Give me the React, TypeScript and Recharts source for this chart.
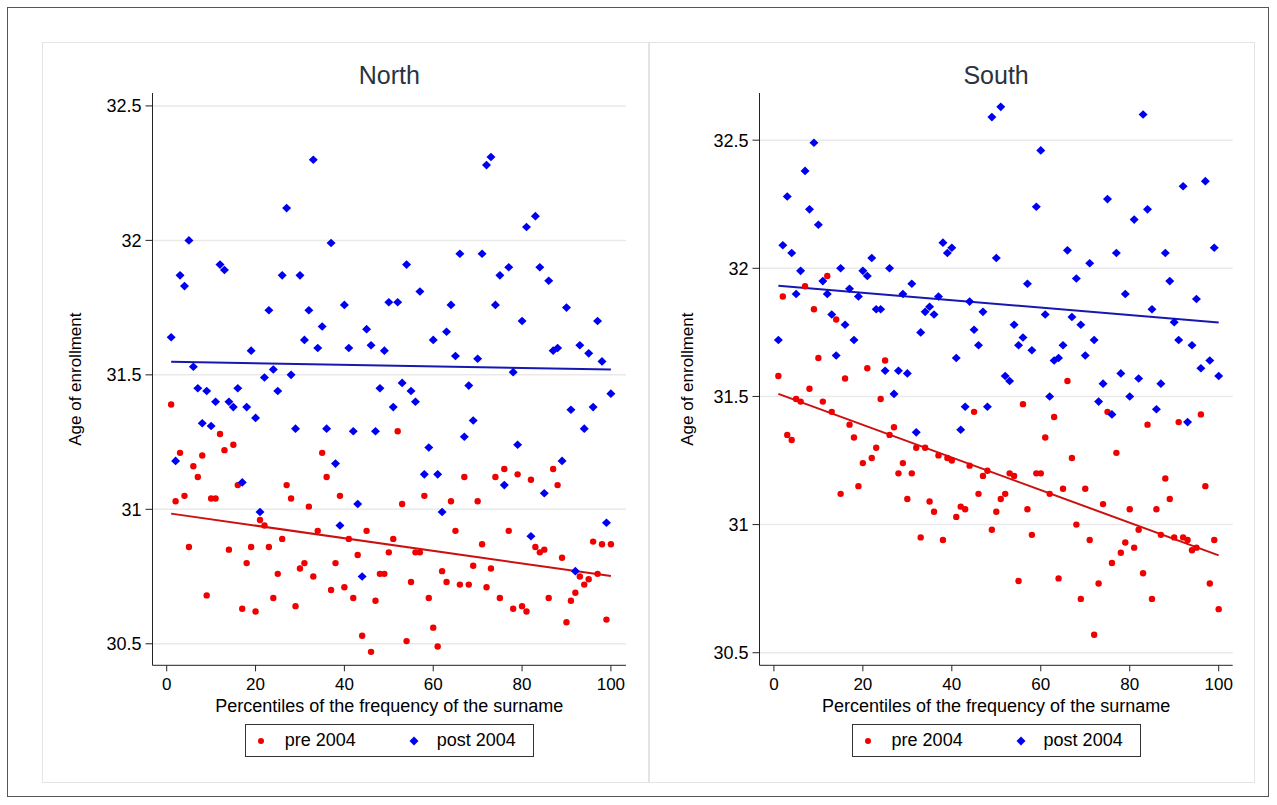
import React from 'react';
import {
  CartesianGrid,
  Label,
  ReferenceLine,
  Scatter,
  ScatterChart,
  XAxis,
  YAxis,
} from 'recharts';

const PERCENTILES = [
  1, 2, 3, 4, 5, 6, 7, 8, 9, 10, 11, 12, 13, 14, 15, 16, 17, 18, 19, 20,
  21, 22, 23, 24, 25, 26, 27, 28, 29, 30, 31, 32, 33, 34, 35, 36, 37, 38, 39, 40,
  41, 42, 43, 44, 45, 46, 47, 48, 49, 50, 51, 52, 53, 54, 55, 56, 57, 58, 59, 60,
  61, 62, 63, 64, 65, 66, 67, 68, 69, 70, 71, 72, 73, 74, 75, 76, 77, 78, 79, 80,
  81, 82, 83, 84, 85, 86, 87, 88, 89, 90, 91, 92, 93, 94, 95, 96, 97, 98, 99, 100,
];

const NORTH_PRE = [
  31.39, 31.03, 31.21, 31.05, 30.86, 31.16, 31.12, 31.2, 30.68, 31.04,
  31.04, 31.28, 31.22, 30.85, 31.24, 31.09, 30.63, 30.8, 30.86, 30.62,
  30.96, 30.94, 30.86, 30.67, 30.76, 30.89, 31.09, 31.04, 30.64, 30.78,
  30.8, 31.01, 30.75, 30.92, 31.21, 31.12, 30.7, 30.8, 31.05, 30.71,
  30.89, 30.67, 30.83, 30.53, 30.92, 30.47, 30.66, 30.76, 30.76, 30.84,
  30.89, 31.29, 31.02, 30.51, 30.73, 30.84, 30.84, 31.05, 30.67, 30.56,
  30.49, 30.77, 30.73, 31.03, 30.92, 30.72, 31.12, 30.72, 30.79, 31.03,
  30.87, 30.71, 30.78, 31.12, 30.67, 31.15, 30.92, 30.63, 31.13, 30.64,
  30.62, 31.11, 30.86, 30.84, 30.85, 30.67, 31.15, 31.09, 30.82, 30.58,
  30.66, 30.69, 30.75, 30.72, 30.74, 30.88, 30.76, 30.87, 30.59, 30.87,
];

const NORTH_POST = [
  31.64, 31.18, 31.87, 31.83, 32.0, 31.53, 31.45, 31.32, 31.44, 31.31,
  31.4, 31.91, 31.89, 31.4, 31.38, 31.45, 31.1, 31.38, 31.59, 31.34,
  30.99, 31.49, 31.74, 31.52, 31.44, 31.87, 32.12, 31.5, 31.3, 31.87,
  31.63, 31.74, 32.3, 31.6, 31.68, 31.3, 31.99, 31.17, 30.94, 31.76,
  31.6, 31.29, 31.02, 30.75, 31.67, 31.61, 31.29, 31.45, 31.59, 31.77,
  31.38, 31.77, 31.47, 31.91, 31.44, 31.4, 31.81, 31.13, 31.23, 31.63,
  31.13, 30.99, 31.66, 31.76, 31.57, 31.95, 31.27, 31.46, 31.33, 31.56,
  31.95, 32.28, 32.31, 31.76, 31.87, 31.09, 31.9, 31.51, 31.24, 31.7,
  32.05, 30.9, 32.09, 31.9, 31.06, 31.85, 31.59, 31.6, 31.18, 31.75,
  31.37, 30.77, 31.61, 31.3, 31.58, 31.38, 31.7, 31.55, 30.95, 31.43,
];

const SOUTH_PRE = [
  31.58, 31.89, 31.35, 31.33, 31.49, 31.48, 31.93, 31.53, 31.84, 31.65,
  31.48, 31.97, 31.44, 31.8, 31.12, 31.57, 31.39, 31.34, 31.15, 31.24,
  31.61, 31.26, 31.3, 31.49, 31.64, 31.35, 31.38, 31.2, 31.24, 31.1,
  31.2, 31.3, 30.95, 31.3, 31.09, 31.05, 31.27, 30.94, 31.26, 31.25,
  31.03, 31.07, 31.06, 31.23, 31.44, 31.12, 31.19, 31.21, 30.98, 31.05,
  31.1, 31.12, 31.2, 31.19, 30.78, 31.47, 31.06, 30.96, 31.2, 31.2,
  31.34, 31.12, 31.42, 30.79, 31.14, 31.56, 31.26, 31.0, 30.71, 31.14,
  30.94, 30.57, 30.77, 31.08, 31.44, 30.85, 31.28, 30.89, 30.93, 31.06,
  30.91, 30.98, 30.81, 31.39, 30.71, 31.06, 30.96, 31.18, 31.1, 30.95,
  31.4, 30.95, 30.94, 30.9, 30.91, 31.43, 31.15, 30.77, 30.94, 30.67,
];

const SOUTH_POST = [
  31.72, 32.09, 32.28, 32.06, 31.9, 31.99, 32.38, 32.23, 32.49, 32.17,
  31.95, 31.9, 31.82, 31.66, 32.0, 31.78, 31.92, 31.72, 31.89, 31.99,
  31.97, 32.04, 31.84, 31.84, 31.6, 32.0, 31.51, 31.6, 31.9, 31.59,
  31.94, 31.36, 31.75, 31.83, 31.85, 31.82, 31.89, 32.1, 32.06, 32.08,
  31.65, 31.37, 31.46, 31.87, 31.76, 31.7, 31.83, 31.46, 32.59, 32.04,
  32.63, 31.58, 31.56, 31.78, 31.7, 31.73, 31.94, 31.68, 32.24, 32.46,
  31.82, 31.5, 31.64, 31.65, 31.7, 32.07, 31.81, 31.96, 31.78, 31.66,
  32.02, 31.72, 31.48, 31.55, 32.27, 31.43, 32.06, 31.59, 31.9, 31.5,
  32.19, 31.57, 32.6, 32.23, 31.84, 31.45, 31.55, 32.06, 31.95, 31.79,
  31.72, 32.32, 31.4, 31.7, 31.88, 31.61, 32.34, 31.64, 32.08, 31.58,
];

// linear fit endpoints
const FIT_X = [1, 100];
const NORTH_PRE_FIT = [30.984, 30.752];
const NORTH_POST_FIT = [31.549, 31.52];
const SOUTH_PRE_FIT = [31.51, 30.88];
const SOUTH_POST_FIT = [31.932, 31.789];

const X_TICKS = [0, 20, 40, 60, 80, 100];
const Y_TICKS = [30.5, 31, 31.5, 32, 32.5];

const RED = '#f00000';
const BLUE = '#0000f0';
const RED_LINE = '#cc1010';
const BLUE_LINE = '#1818b0';
const FONT = 'Arial, "Liberation Sans", Helvetica, sans-serif';

const toPoints = (ys: number[]) => PERCENTILES.map((x, i) => ({ x, y: ys[i] }));

const RedDot = (p: any) => <circle cx={p.cx} cy={p.cy} r={3.2} fill={RED} />;

const BlueDiamond = (p: any) => {
  const { cx, cy } = p;
  return (
    <polygon
      points={`${cx},${cy - 4.3} ${cx + 4.5},${cy} ${cx},${cy + 4.3} ${cx - 4.5},${cy}`}
      fill={BLUE}
    />
  );
};

interface PanelProps {
  title: string;
  left: number;
  width: number;
  pre: number[];
  post: number[];
  preFit: number[];
  postFit: number[];
  xDomain: [number, number];
  yDomain: [number, number];
  rightMargin: number;
  yLabelOffset: number;
}

function Panel({
  title,
  left,
  width,
  pre,
  post,
  preFit,
  postFit,
  xDomain,
  yDomain,
  rightMargin,
  yLabelOffset,
}: PanelProps) {
  const height = 741;
  const yAxisWidth = 109.5;
  const plotCenter = yAxisWidth + (width - yAxisWidth - rightMargin) / 2;

  return (
    <div
      style={{
        position: 'absolute',
        left,
        top: 42,
        width,
        height,
        background: '#fff',
        boxSizing: 'border-box',
        border: '1px solid #e4e4e4',
      }}
    >
      <div
        style={{
          position: 'absolute',
          left: plotCenter - 100,
          width: 200,
          top: 18,
          textAlign: 'center',
          fontFamily: FONT,
          fontSize: 25,
          color: '#2a3340',
        }}
      >
        {title}
      </div>
      <ScatterChart
        width={width}
        height={height}
        margin={{ top: 50, right: rightMargin, bottom: 58.7, left: 0 }}
      >
        <CartesianGrid
          horizontal
          vertical={false}
          stroke="#e9e9e9"
          strokeWidth={1.5}
          horizontalValues={Y_TICKS}
        />
        <XAxis
          type="number"
          dataKey="x"
          domain={xDomain}
          ticks={X_TICKS}
          allowDataOverflow
          height={60}
          tickSize={6}
          tickMargin={7}
          stroke="#222"
          tick={{ fill: '#000', fontSize: 17, fontFamily: FONT }}
        >
          <Label
            content={({ viewBox }: any) => (
              <text
                x={viewBox.x + viewBox.width / 2}
                y={viewBox.y + 47}
                textAnchor="middle"
                fontFamily={FONT}
                fontSize={18}
                fill="#000"
              >
                Percentiles of the frequency of the surname
              </text>
            )}
          />
        </XAxis>
        <YAxis
          type="number"
          dataKey="y"
          domain={yDomain}
          ticks={Y_TICKS}
          allowDataOverflow
          width={yAxisWidth}
          tickSize={7}
          tickMargin={4}
          stroke="#222"
          tick={{ fill: '#000', fontSize: 18, fontFamily: FONT }}
        >
          <Label
            content={({ viewBox }: any) => {
              const cx = viewBox.x + viewBox.width - yLabelOffset;
              const cy = viewBox.y + viewBox.height / 2;
              return (
                <text
                  x={cx}
                  y={cy}
                  transform={`rotate(-90, ${cx}, ${cy})`}
                  textAnchor="middle"
                  dominantBaseline="central"
                  fontFamily={FONT}
                  fontSize={17}
                  fill="#000"
                >
                  Age of enrollment
                </text>
              );
            }}
          />
        </YAxis>
        <ReferenceLine
          segment={[
            { x: FIT_X[0], y: preFit[0] },
            { x: FIT_X[1], y: preFit[1] },
          ]}
          stroke={RED_LINE}
          strokeWidth={2}
          ifOverflow="visible"
        />
        <ReferenceLine
          segment={[
            { x: FIT_X[0], y: postFit[0] },
            { x: FIT_X[1], y: postFit[1] },
          ]}
          stroke={BLUE_LINE}
          strokeWidth={2}
          ifOverflow="visible"
        />
        <Scatter
          name="pre 2004"
          data={toPoints(pre)}
          shape={RedDot}
          isAnimationActive={false}
        />
        <Scatter
          name="post 2004"
          data={toPoints(post)}
          shape={BlueDiamond}
          isAnimationActive={false}
        />
      </ScatterChart>
      <div
        style={{
          position: 'absolute',
          left: plotCenter - 144.5,
          top: 681,
          width: 289,
          height: 33,
          boxSizing: 'border-box',
          border: '1px solid #333',
          background: '#fff',
          fontFamily: FONT,
          fontSize: 18,
          color: '#000',
        }}
      >
        <svg width={289} height={33} style={{ position: 'absolute', left: 0, top: 0 }}>
          <circle cx={15} cy={16} r={3} fill={RED} />
          <polygon points="168,11.5 172.5,16 168,20.5 163.5,16" fill={BLUE} />
        </svg>
        <span style={{ position: 'absolute', left: 39, top: 5 }}>pre 2004</span>
        <span style={{ position: 'absolute', left: 191, top: 5 }}>post 2004</span>
      </div>
    </div>
  );
}

export default function App() {
  return (
    <div
      style={{
        position: 'absolute',
        left: 0,
        top: 0,
        width: 1277,
        height: 805,
        background: '#fff',
        overflow: 'hidden',
      }}
    >
      <div
        style={{
          position: 'absolute',
          left: 7,
          top: 7,
          width: 1262,
          height: 790,
          border: '1px solid #555',
          boxSizing: 'border-box',
        }}
      />
      <Panel
        title="North"
        left={42}
        width={607}
        pre={NORTH_PRE}
        post={NORTH_POST}
        preFit={NORTH_PRE_FIT}
        postFit={NORTH_POST_FIT}
        xDomain={[-3.2, 103.4]}
        yDomain={[30.42, 32.548]}
        rightMargin={24}
        yLabelOffset={77}
      />
      <Panel
        title="South"
        left={649}
        width={606}
        pre={SOUTH_PRE}
        post={SOUTH_POST}
        preFit={SOUTH_PRE_FIT}
        postFit={SOUTH_POST_FIT}
        xDomain={[-3.24, 103.15]}
        yDomain={[30.451, 32.684]}
        rightMargin={23.3}
        yLabelOffset={72}
      />
    </div>
  );
}
